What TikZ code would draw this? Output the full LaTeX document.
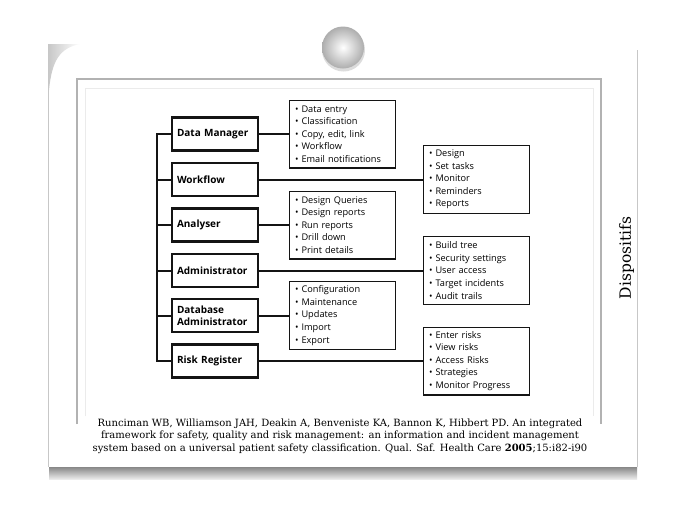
\documentclass[tikz,border=0pt]{standalone}
\usepackage{fontspec}
\setmainfont{Open Sans}
\newfontfamily\citefont{DejaVu Serif}
\begin{document}
\begin{tikzpicture}[x=1pt,y=-1pt,
  mainbox/.style={draw=black!92, line width=2.6pt, minimum width=86pt, minimum height=33pt,
    text width=76pt, align=left, inner xsep=5pt, inner ysep=0pt, anchor=west,
    font=\fontsize{10}{11.5}\selectfont\bfseries},
  listbox/.style={draw=black!92, line width=1.3pt, minimum width=105.7pt, minimum height=67.7pt,
    text width=95pt, align=left, inner xsep=5.3pt, inner ysep=0pt, anchor=west,
    font=\fontsize{9.2}{12.6}\selectfont},
  link/.style={line width=2pt, draw=black!92},
  framel/.style={line width=1.1pt, draw=black!30}]
\useasboundingbox (0,0) rectangle (687,517);
\fill[white] (0,0) rectangle (687,517);
% card
\shade[top color=black!50, bottom color=black!8] (49,466) rectangle (637,479);
\fill[white] (48,46) rectangle (637,467);
\shade[left color=black!22, right color=white] (48,44) -- (80,44) .. controls (60,48) and (52,60) .. (49,90) -- (48,90) -- cycle;
\draw[line width=0.9pt, black!22] (48,50) -- (48,467);
\draw[line width=0.9pt, black!22] (637,50) -- (637,467);
% frame
\draw[framel] (77,424) -- (77,79) -- (601,79) -- (601,424);
\draw[line width=0.5pt, black!8] (85,416) -- (85,88) -- (593,88) -- (593,416);
% pin
\fill[black!30, opacity=0.45] (343.5,50) circle (21.5);
\shade[inner color=white, outer color=black!32] (343,47.5) circle (21);
% left boxes
\node[mainbox] (dm) at (170.7,134) {Data Manager};
\node[mainbox] (wf) at (170.7,179.5) {Workflow};
\node[mainbox] (an) at (170.7,225) {Analyser};
\node[mainbox] (ad) at (170.7,270.5) {Administrator};
\node[mainbox] (db) at (170.7,315.5) {Database\\Administrator};
\node[mainbox] (rr) at (170.7,361) {Risk Register};
% list boxes
\node[listbox] (l1) at (289,134) {\textbullet\ Data entry\\\textbullet\ Classification\\\textbullet\ Copy, edit, link\\\textbullet\ Workflow\\\textbullet\ Email notifications};
\node[listbox] (l2) at (289,225) {\textbullet\ Design Queries\\\textbullet\ Design reports\\\textbullet\ Run reports\\\textbullet\ Drill down\\\textbullet\ Print details};
\node[listbox] (l3) at (289,315.5) {\textbullet\ Configuration\\\textbullet\ Maintenance\\\textbullet\ Updates\\\textbullet\ Import\\\textbullet\ Export};
\node[listbox] (r1) at (423,179.5) {\textbullet\ Design\\\textbullet\ Set tasks\\\textbullet\ Monitor\\\textbullet\ Reminders\\\textbullet\ Reports};
\node[listbox] (r2) at (423,270.5) {\textbullet\ Build tree\\\textbullet\ Security settings\\\textbullet\ User access\\\textbullet\ Target incidents\\\textbullet\ Audit trails};
\node[listbox] (r3) at (423,361) {\textbullet\ Enter risks\\\textbullet\ View risks\\\textbullet\ Access Risks\\\textbullet\ Strategies\\\textbullet\ Monitor Progress};
% trunk
\coordinate (ttop) at (157,134);
\coordinate (tbot) at (157,361);
\draw[link] (dm.west) -- (ttop) -- (tbot) -- (rr.west);
\draw[link] (wf.west) -- (wf.west -| ttop);
\draw[link] (an.west) -- (an.west -| ttop);
\draw[link] (ad.west) -- (ad.west -| ttop);
\draw[link] (db.west) -- (db.west -| ttop);
% branches
\draw[link] (dm.east) -- (l1.west);
\draw[link] (an.east) -- (l2.west);
\draw[link] (db.east) -- (l3.west);
\draw[link] (wf.east) -- (r1.west);
\draw[link] (ad.east) -- (r2.west);
\draw[link] (rr.east) -- (r3.west);
% citation
\node[align=center, font=\citefont\fontsize{10}{12.5}\selectfont, inner sep=0pt] (cite) at (340,436)
 {Runciman WB, Williamson JAH, Deakin A, Benveniste KA, Bannon K, Hibbert PD. An integrated\\
  framework for safety, quality and risk management: an information and incident management\\
  system based on a universal patient safety classification. Qual. Saf. Health Care \textbf{2005};15:i82-i90};
\node[rotate=90, font=\citefont\fontsize{15.5}{17}\selectfont, inner sep=0pt] (disp) at (626.5,258) {Dispositifs};
\end{tikzpicture}
\end{document}
